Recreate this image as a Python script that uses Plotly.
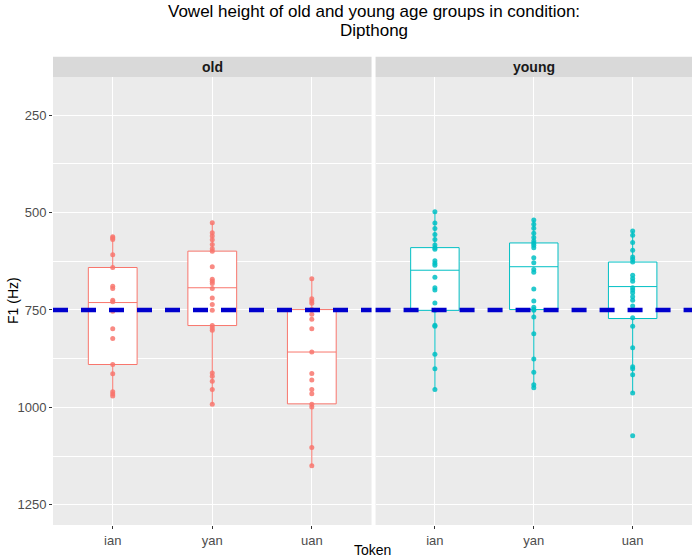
import plotly.graph_objects as go

tokens = ["ian", "yan", "uan"]

# F1 values (Hz)
old_ian = [562, 565, 569, 608, 641, 689, 695, 725, 729, 753, 798, 823, 890, 914, 960, 966, 971]
old_yan = [526, 552, 560, 570, 582, 593, 599, 639, 671, 676, 682, 695, 719, 736, 751, 790, 796, 802,
           912, 920, 933, 954, 992]
old_uan = [670, 721, 727, 733, 749, 761, 774, 798, 858, 913, 930, 954, 965, 992, 999, 1103, 1150]
young_ian = [498, 527, 541, 556, 569, 583, 590, 594, 624, 630, 635, 666, 693, 699, 732, 751, 789, 792,
             864, 901, 954]
young_yan = [519, 530, 540, 553, 564, 573, 579, 584, 590, 616, 629, 646, 653, 696, 727, 743, 749, 751,
             768, 811, 876, 910, 942, 950]
young_uan = [547, 558, 577, 597, 614, 620, 627, 661, 669, 676, 693, 699, 706, 716, 725, 740, 770, 792,
             847, 896, 901, 916, 963, 1073]

# Box statistics (ian, yan, uan)
old_q1 = [641, 599, 749]
old_median = [731, 693, 858]
old_q3 = [890, 790, 991]
old_low = [562, 526, 670]
old_high = [971, 992, 1150]

young_q1 = [590, 578, 627]
young_median = [648, 639, 690]
young_q3 = [751, 749, 772]
young_low = [498, 519, 547]
young_high = [954, 950, 963]

reference_f1 = 750
panels = ["old", "young"]
y_ticks = [250, 500, 750, 1000, 1250]
y_minor = [375, 625, 875, 1125]
title_lines = ["Vowel height of old and young age groups in condition:", "Dipthong"]

OLD_COL = "#F8766D"
YOUNG_COL = "#00BFC4"
FONT = "Liberation Sans, Arial, sans-serif"

fig = go.Figure()

def add_panel(xa, ya, q1, med, q3, lo, hi, series, col):
    fig.add_trace(go.Box(
        x=tokens, q1=q1, median=med, q3=q3, lowerfence=lo, upperfence=hi,
        fillcolor="white", line=dict(color=col, width=1), whiskerwidth=0,
        xaxis=xa, yaxis=ya, showlegend=False, hoverinfo="skip"))
    for tok, vals in zip(tokens, series):
        fig.add_trace(go.Scatter(
            x=[tok] * len(vals), y=vals, mode="markers",
            marker=dict(color=col, size=5, opacity=0.85),
            xaxis=xa, yaxis=ya, showlegend=False))

add_panel("x", "y", old_q1, old_median, old_q3, old_low, old_high,
          [old_ian, old_yan, old_uan], OLD_COL)
add_panel("x2", "y2", young_q1, young_median, young_q3, young_low, young_high,
          [young_ian, young_yan, young_uan], YOUNG_COL)

tick_font = dict(family=FONT, size=13, color="#4D4D4D")
yr = [1302, 152]
common_x = dict(type="category", categoryorder="array", categoryarray=tokens,
                range=[-0.6, 2.6], showgrid=True, gridcolor="white", gridwidth=1.1,
                zeroline=False, ticks="outside", ticklen=3, tickcolor="#333333",
                tickfont=tick_font, showline=False, automargin=False)
common_y = dict(range=yr, tickvals=y_ticks, showgrid=True,
                gridcolor="white", gridwidth=1.1, zeroline=False, automargin=False,
                minor=dict(tickvals=y_minor, showgrid=True,
                           gridcolor="white", gridwidth=0.5, ticks=""))

shapes = []
annotations = []
for i, (name, xd) in enumerate(zip(panels, ["x domain", "x2 domain"])):
    ya = "y" if i == 0 else "y2"
    shapes.append(dict(type="rect", xref=xd, x0=0, x1=1, yref="paper", y0=1.0, y1=1.045,
                       fillcolor="#D9D9D9", line=dict(width=0), layer="below"))
    annotations.append(dict(text="<b>%s</b>" % name, xref=xd, x=0.5, yref="paper", y=1.0225,
                            showarrow=False, yanchor="middle",
                            font=dict(family=FONT, size=14, color="#1A1A1A")))
    shapes.append(dict(type="line", xref=xd, x0=0, x1=1, yref=ya, y0=reference_f1, y1=reference_f1,
                       line=dict(color="#0000CD", width=4.5, dash="15px,13px"), layer="above"))

# axis titles
annotations.append(dict(text="Token", xref="paper", x=0.5, yref="paper", y=-25 / 448,
                        yanchor="middle", showarrow=False,
                        font=dict(family=FONT, size=14, color="black")))
annotations.append(dict(text="F1 (Hz)", xref="paper", x=-40 / 639, xanchor="center",
                        yref="paper", y=0.5, yanchor="middle", textangle=-90, showarrow=False,
                        font=dict(family=FONT, size=14, color="black")))
# title lines
for line, ypx in zip(title_lines, [12, 30]):
    annotations.append(dict(text=line, xref="paper", x=0.502, xanchor="center",
                            yref="paper", y=1 + (77 - ypx) / 448, yanchor="middle",
                            showarrow=False, font=dict(family=FONT, size=17, color="black")))

fig.update_layout(
    width=700, height=560,
    margin=dict(l=53, r=8, t=77, b=35, autoexpand=False),
    paper_bgcolor="white", plot_bgcolor="#EBEBEB",
    font=dict(family=FONT),
    xaxis=dict(domain=[0, 0.4985], anchor="y", **common_x),
    xaxis2=dict(domain=[0.5048, 1], anchor="y2", **common_x),
    yaxis=dict(anchor="x", ticks="outside", ticklen=3, tickcolor="#333333", tickfont=tick_font,
               **common_y),
    yaxis2=dict(anchor="x2", matches="y", showticklabels=False, ticks="", **common_y),
    shapes=shapes, annotations=annotations,
)

fig.write_html("out.html", config={"displayModeBar": False},
               post_script="document.body.style.margin='0';")
